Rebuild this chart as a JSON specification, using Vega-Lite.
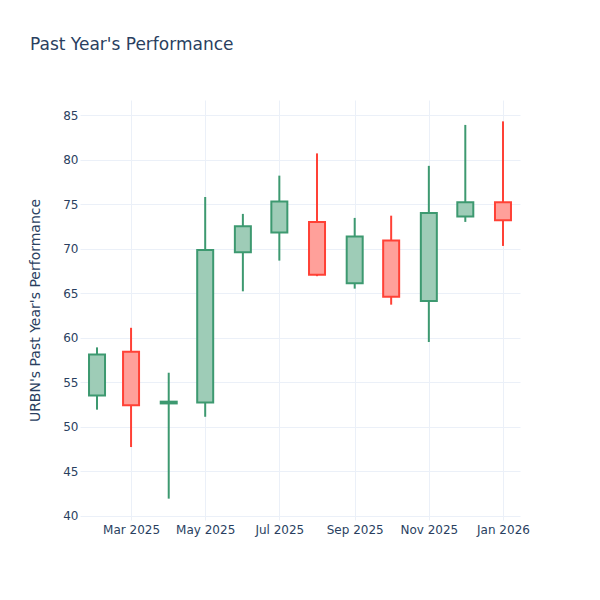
{
  "$schema": "https://vega.github.io/schema/vega-lite/v6.json",
  "width": 440,
  "height": 420,
  "autosize": {"type": "none"},
  "padding": {"left": 80, "top": 100, "right": 80, "bottom": 80},
  "background": "white",
  "title": {
    "text": "Past Year's Performance",
    "anchor": "start",
    "frame": "group",
    "dx": -50,
    "offset": 46,
    "fontSize": 17,
    "fontWeight": "normal",
    "font": "DejaVu Sans",
    "color": "#2a3f5f"
  },
  "config": {
    "view": {"stroke": null},
    "font": "DejaVu Sans",
    "axis": {
      "labelFont": "DejaVu Sans",
      "titleFont": "DejaVu Sans",
      "labelColor": "#2a3f5f",
      "titleColor": "#2a3f5f",
      "labelFontSize": 12,
      "titleFontSize": 14,
      "titleFontWeight": "normal",
      "gridColor": "#EBF0F8",
      "gridWidth": 1,
      "domain": false,
      "ticks": false
    }
  },
  "data": {
    "values": [
      {"date": "2025-02-01", "open": 53.5, "close": 58.1, "high": 58.9, "low": 51.9},
      {"date": "2025-03-01", "open": 58.4, "close": 52.4, "high": 61.1, "low": 47.7},
      {"date": "2025-04-01", "open": 52.6, "close": 52.8, "high": 56.05, "low": 41.9},
      {"date": "2025-05-01", "open": 52.7, "close": 69.85, "high": 75.8, "low": 51.1},
      {"date": "2025-06-01", "open": 69.6, "close": 72.5, "high": 73.9, "low": 65.2},
      {"date": "2025-07-01", "open": 71.8, "close": 75.3, "high": 78.2, "low": 68.65},
      {"date": "2025-08-01", "open": 73.0, "close": 67.05, "high": 80.7, "low": 66.9},
      {"date": "2025-09-01", "open": 66.1, "close": 71.35, "high": 73.45, "low": 65.5},
      {"date": "2025-10-01", "open": 70.9, "close": 64.6, "high": 73.7, "low": 63.7},
      {"date": "2025-11-01", "open": 64.1, "close": 74.0, "high": 79.3, "low": 59.5},
      {"date": "2025-12-01", "open": 73.6, "close": 75.2, "high": 83.9, "low": 73.0},
      {"date": "2026-01-01", "open": 75.2, "close": 73.2, "high": 84.3, "low": 70.3}
    ]
  },
  "encoding": {
    "x": {
      "field": "date",
      "type": "temporal",
      "scale": {
        "type": "utc",
        "padding": 0,
        "domain": [
          {"year": 2025, "month": 1, "date": 18, "utc": true},
          {"year": 2026, "month": 1, "date": 15, "utc": true}
        ]
      },
      "axis": {
        "title": null,
        "format": "%b %Y",
        "tickCount": {"interval": "month", "step": 2},
        "labelPadding": 4,
        "labelFlush": false
      }
    }
  },
  "layer": [
    {
      "mark": {"type": "rule", "strokeWidth": 2},
      "encoding": {
        "y": {
          "field": "low",
          "type": "quantitative",
          "scale": {"domain": [39.5, 86.7], "nice": false, "zero": false},
          "axis": {
            "title": "URBN's Past Year's Performance",
            "values": [40, 45, 50, 55, 60, 65, 70, 75, 80, 85],
            "labelPadding": 2,
            "titlePadding": 20
          }
        },
        "y2": {"field": "high"},
        "color": {
          "condition": {"test": "datum.close >= datum.open", "value": "#3D9970"},
          "value": "#FF4136"
        }
      }
    },
    {
      "mark": {"type": "bar", "size": 16, "fill": "white", "stroke": null},
      "encoding": {
        "y": {"field": "open", "type": "quantitative"},
        "y2": {"field": "close"}
      }
    },
    {
      "mark": {"type": "bar", "size": 16, "strokeWidth": 2, "fillOpacity": 0.5},
      "encoding": {
        "y": {"field": "open", "type": "quantitative"},
        "y2": {"field": "close"},
        "fill": {
          "condition": {"test": "datum.close >= datum.open", "value": "#3D9970"},
          "value": "#FF4136"
        },
        "stroke": {
          "condition": {"test": "datum.close >= datum.open", "value": "#3D9970"},
          "value": "#FF4136"
        }
      }
    }
  ]
}
